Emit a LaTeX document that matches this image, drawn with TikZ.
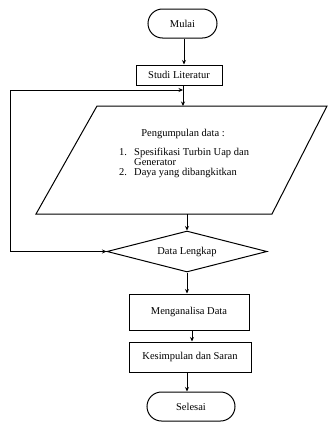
\documentclass[tikz,border=0pt]{standalone}
\usepackage{fontspec}
\setmainfont{Liberation Serif}
\usetikzlibrary{shapes.geometric,arrows.meta}
\begin{document}
\begin{tikzpicture}[x=1pt,y=-1pt,
  every node/.style={font=\fontsize{10.5}{10}\selectfont, inner sep=0pt},
  line/.style={draw=black, line width=1pt},
  arr/.style={line, -{Stealth[length=4.5pt,width=4pt]}},
  terminal/.style={line, rectangle, rounded corners=14.5pt, minimum height=29pt},
  procbox/.style={line, rectangle},
  decision/.style={line, diamond, aspect=3.9}
]
\useasboundingbox (0,0) rectangle (328,423);
\fill[white] (0,0) rectangle (328,423);

\node[terminal, minimum width=69pt] (mulai) at (182.5,23.5) {Mulai};
\node[procbox, minimum width=86pt, minimum height=20pt] (studi) at (179,75) {Studi Literatur};

\coordinate (p1) at (97,106);
\coordinate (p2) at (327,106);
\coordinate (p3) at (272,214);
\coordinate (p4) at (36,214);
\draw[line, line join=miter] (p1) -- (p2) -- (p3) -- (p4) -- cycle;
\coordinate (paratop) at (183,106);
\coordinate (parabot) at (187,214);
\node (ptitle) at (183,134) {Pengumpulan data :};
\node[align=left, anchor=north west] (plist) at (119,148) {%
  \makebox[15pt][l]{1.}Spesifikasi Turbin Uap dan\\
  \hspace*{15pt}Generator\\
  \makebox[15pt][l]{2.}Daya yang dibangkitkan};

\node[decision, minimum width=160pt, minimum height=41pt] (data) at (187,251.5) {Data Lengkap};
\node[procbox, minimum width=120pt, minimum height=36pt] (analisa) at (189,312) {Menganalisa Data};
\node[procbox, minimum width=122pt, minimum height=30pt] (simpul) at (190,357) {Kesimpulan dan Saran};
\node[terminal, minimum width=88pt] (selesai) at (191,406.5) {Selesai};

\coordinate (j) at (183,90);
\coordinate (lc) at (10,90);

\draw[arr] (mulai.south -| 184,0) -- (studi.north -| 184,0);
\draw[arr] (studi.south -| paratop) -- (paratop);
\draw[arr] (parabot) -- (data.north);
\draw[arr] (data.south) -- (analisa.north -| data.south);
\draw[arr] (analisa.south -| 192,0) -- (simpul.north -| 192,0);
\draw[arr] (simpul.south -| 187,0) -- (selesai.north -| 187,0);
\draw[line, {Stealth[length=4.5pt,width=4pt]}-{Stealth[length=4.5pt,width=4pt]}] (data.west) -| (lc) -- (j);
\end{tikzpicture}
\end{document}
